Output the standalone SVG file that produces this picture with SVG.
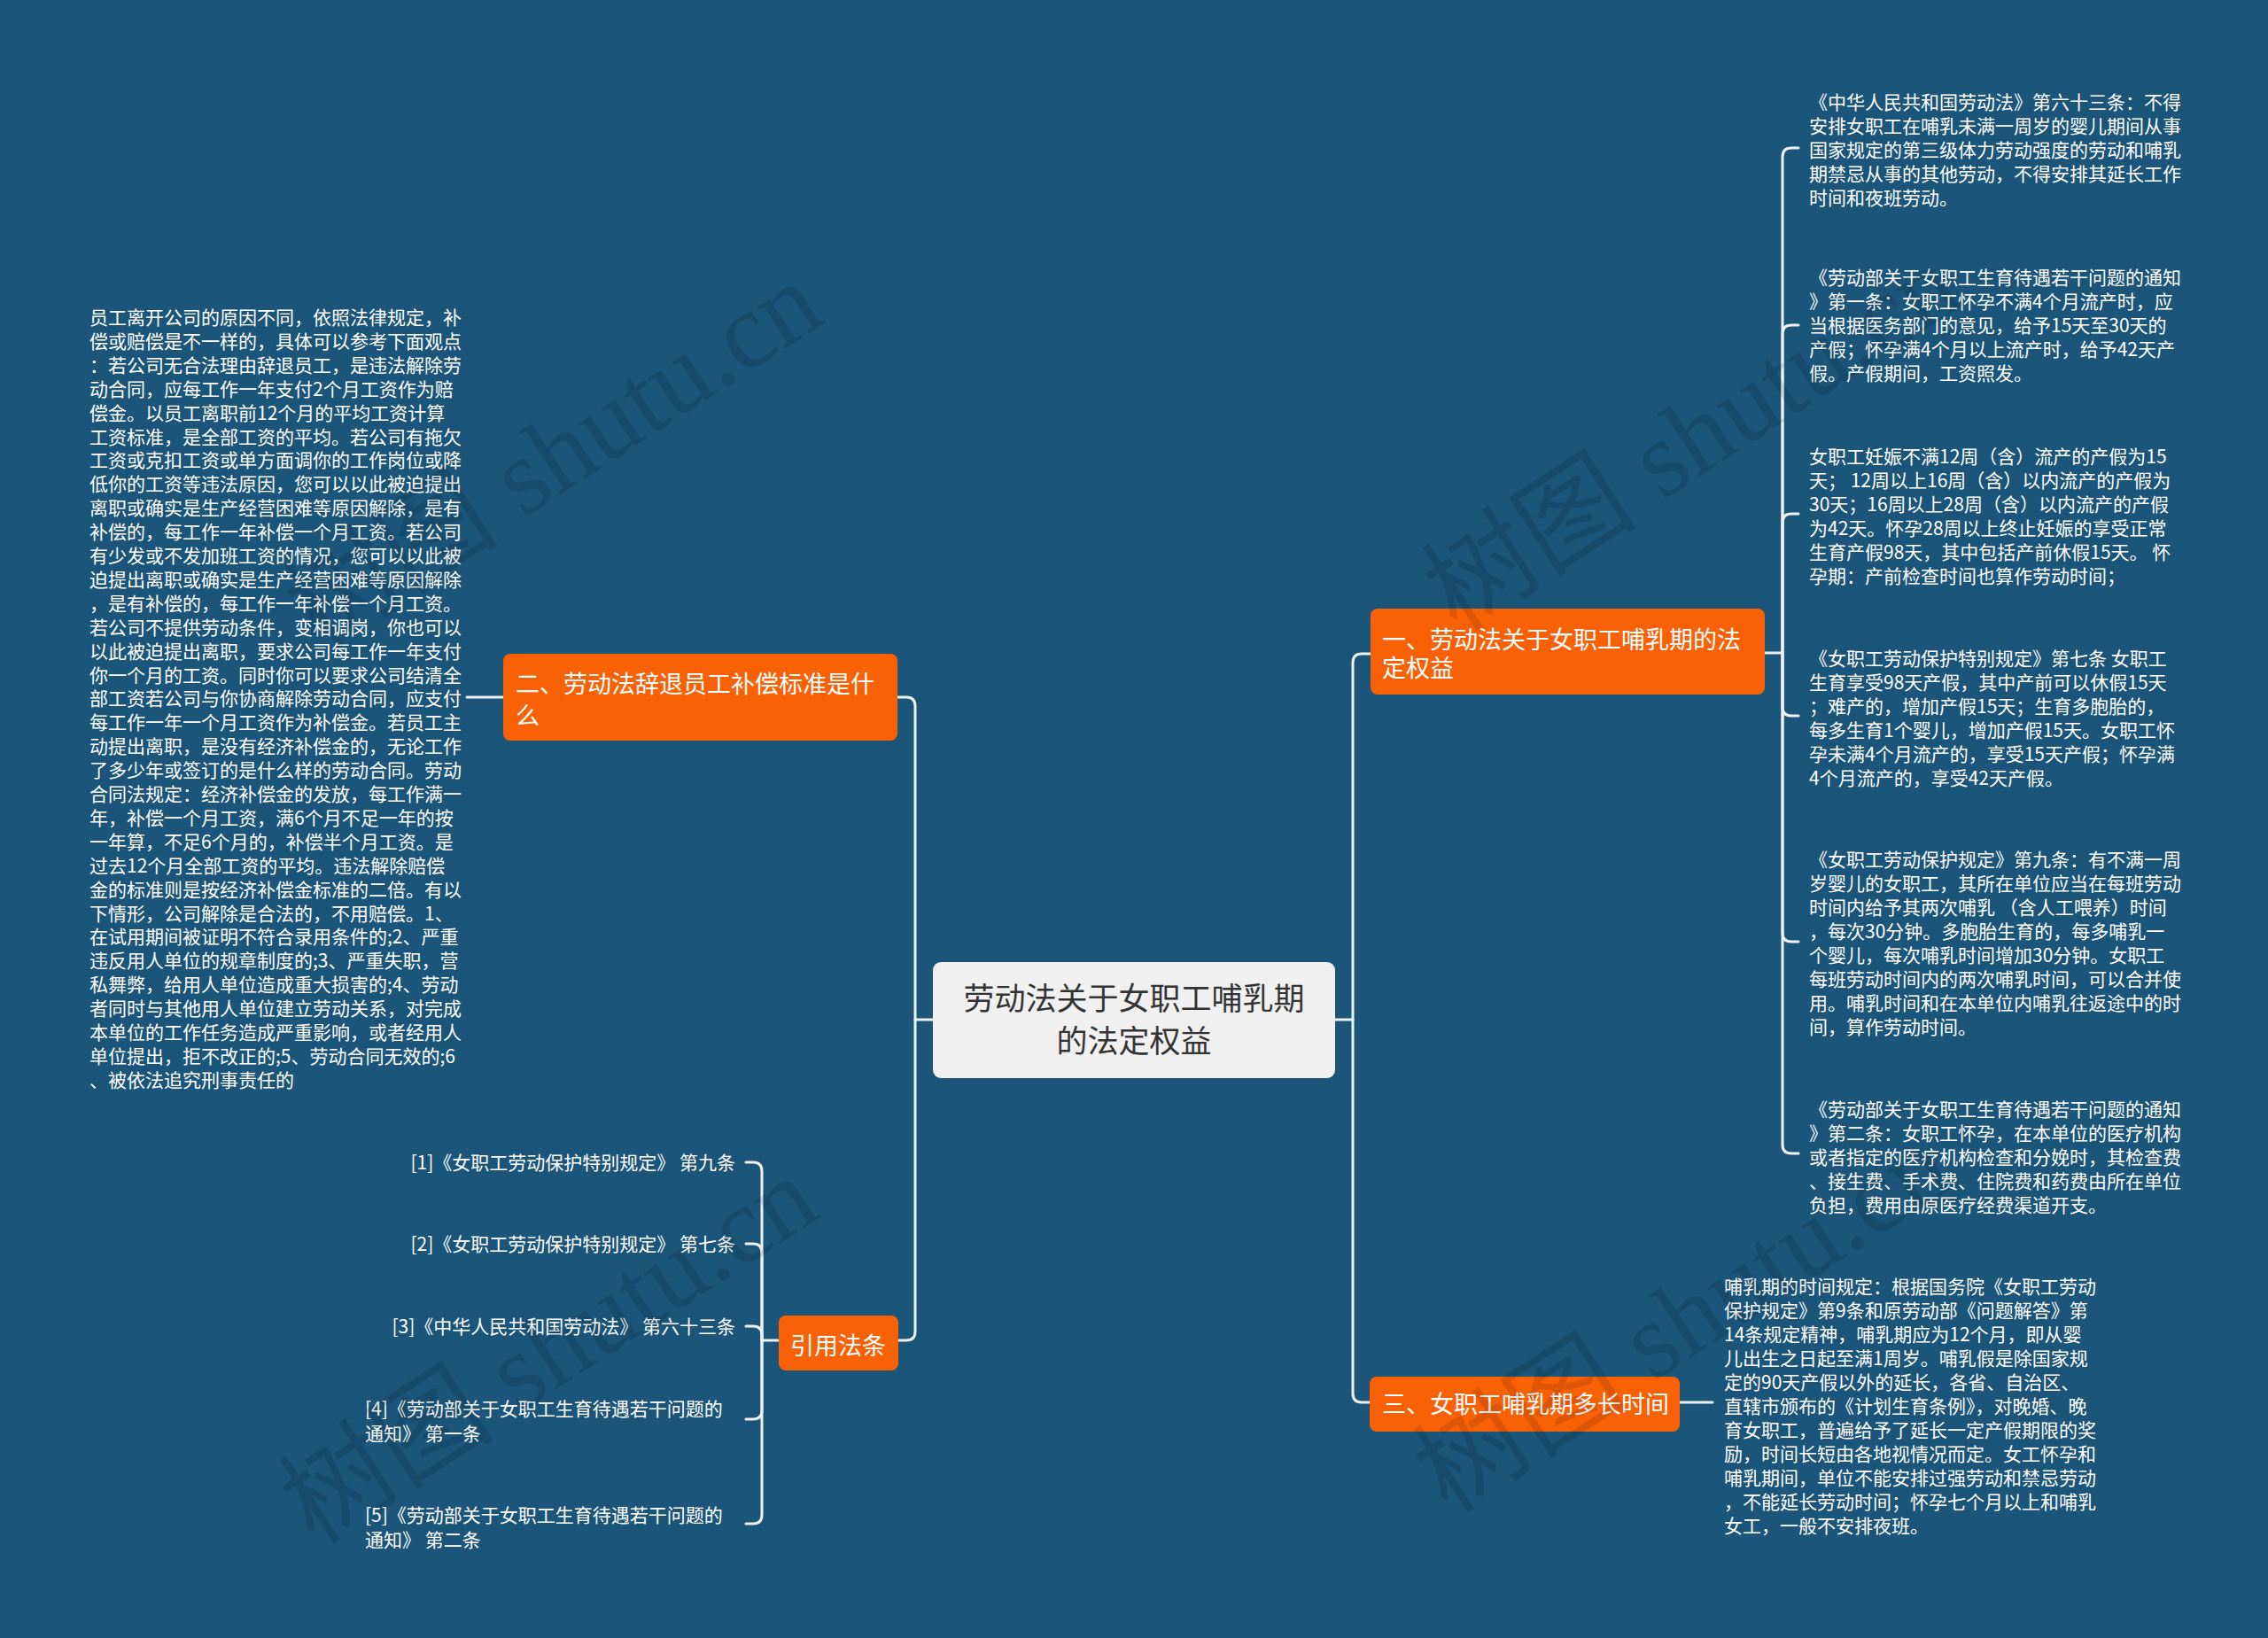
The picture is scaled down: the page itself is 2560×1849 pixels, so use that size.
<svg xmlns="http://www.w3.org/2000/svg" width="2560" height="1849" viewBox="0 0 2560 1849">
<style>
.bg{fill:#1b5579}
.conn{fill:none;stroke:#eef2f5;stroke-width:3;stroke-linecap:round}
.orange{fill:#f96106}
.root{fill:#f0f0f0}
.t{font-family:"Microsoft YaHei","Noto Sans CJK SC","Noto Sans",sans-serif;fill:#ffffff}
.s21{font-size:21px}
.s27{font-size:27px}
.rt{font-family:"Microsoft YaHei","Noto Sans CJK SC","Noto Sans",sans-serif;font-size:35px;fill:#333333}
.wm{font-family:"Liberation Serif","Noto Sans CJK SC",serif;font-size:122px;fill:#000000;opacity:0.11}
</style>
<rect class="bg" x="0" y="0" width="2560" height="1849"/>

<g id="connectors">
<path class="conn" d="M1053,1151 H1033 V797 Q1033,787 1023,787 H1013"/>
<path class="conn" d="M1033,1151 V1503 Q1033,1513 1023,1513 H1014"/>
<path class="conn" d="M1507,1151 H1527 V748 Q1527,738 1537,738 H1547"/>
<path class="conn" d="M1527,1151 V1573 Q1527,1583 1537,1583 H1546"/>
<path class="conn" d="M568,787 H527"/>
<path class="conn" d="M1896,1583 H1933"/>
<path class="conn" d="M1992,737 H2012"/>
<path class="conn" d="M2012,737 V177 Q2012,167 2022,167 H2030"/>
<path class="conn" d="M2012,737 V377 Q2012,367 2022,367 H2030"/>
<path class="conn" d="M2012,737 V590 Q2012,580 2022,580 H2030"/>
<path class="conn" d="M2012,737 V798 Q2012,808 2022,808 H2030"/>
<path class="conn" d="M2012,737 V1053 Q2012,1063 2022,1063 H2030"/>
<path class="conn" d="M2012,737 V1292 Q2012,1302 2022,1302 H2030"/>
<path class="conn" d="M879,1513 H860"/>
<path class="conn" d="M860,1513 V1322 Q860,1312 850,1312 H842"/>
<path class="conn" d="M860,1513 V1414 Q860,1404 850,1404 H842"/>
<path class="conn" d="M860,1513 V1507 Q860,1497 850,1497 H842"/>
<path class="conn" d="M860,1513 V1592 Q860,1602 850,1602 H842"/>
<path class="conn" d="M860,1513 V1710 Q860,1720 850,1720 H842"/>
</g>

<g id="root">
<rect class="root" x="1053" y="1086" width="454" height="131" rx="9"/>
<text class="rt" text-anchor="middle"><tspan x="1280" y="1140">劳动法关于女职工哺乳期</tspan><tspan x="1280" y="1188">的法定权益</tspan></text>
</g>

<g id="node-1">
<rect class="orange" x="1547" y="687" width="445" height="97" rx="8"/>
<text class="t s27"><tspan x="1560" y="732">一、劳动法关于女职工哺乳期的法</tspan><tspan x="1560" y="764">定权益</tspan></text>
</g>

<g id="node-2">
<rect class="orange" x="568" y="738" width="445" height="98" rx="8"/>
<text class="t s27"><tspan x="582" y="782">二、劳动法辞退员工补偿标准是什</tspan><tspan x="582" y="818">么</tspan></text>
</g>

<g id="node-3">
<rect class="orange" x="1546" y="1554" width="350" height="62" rx="8"/>
<text class="t s27" x="1560" y="1595">三、女职工哺乳期多长时间</text>
</g>

<g id="node-refs">
<rect class="orange" x="879" y="1485" width="135" height="62" rx="8"/>
<text class="t s27" x="946" y="1529" text-anchor="middle">引用法条</text>
</g>

<g id="node-2-text">
<text class="t s21">
<tspan x="101" y="366">员工离开公司的原因不同，依照法律规定，补</tspan>
<tspan x="101" y="392.9">偿或赔偿是不一样的，具体可以参考下面观点</tspan>
<tspan x="101" y="419.8">：若公司无合法理由辞退员工，是违法解除劳</tspan>
<tspan x="101" y="446.7">动合同，应每工作一年支付2个月工资作为赔</tspan>
<tspan x="101" y="473.6">偿金。以员工离职前12个月的平均工资计算</tspan>
<tspan x="101" y="500.5">工资标准，是全部工资的平均。若公司有拖欠</tspan>
<tspan x="101" y="527.4">工资或克扣工资或单方面调你的工作岗位或降</tspan>
<tspan x="101" y="554.3">低你的工资等违法原因，您可以以此被迫提出</tspan>
<tspan x="101" y="581.2">离职或确实是生产经营困难等原因解除，是有</tspan>
<tspan x="101" y="608.1">补偿的，每工作一年补偿一个月工资。若公司</tspan>
<tspan x="101" y="635">有少发或不发加班工资的情况，您可以以此被</tspan>
<tspan x="101" y="661.9">迫提出离职或确实是生产经营困难等原因解除</tspan>
<tspan x="101" y="688.8">，是有补偿的，每工作一年补偿一个月工资。</tspan>
<tspan x="101" y="715.7">若公司不提供劳动条件，变相调岗，你也可以</tspan>
<tspan x="101" y="742.6">以此被迫提出离职，要求公司每工作一年支付</tspan>
<tspan x="101" y="769.5">你一个月的工资。同时你可以要求公司结清全</tspan>
<tspan x="101" y="796.4">部工资若公司与你协商解除劳动合同，应支付</tspan>
<tspan x="101" y="823.3">每工作一年一个月工资作为补偿金。若员工主</tspan>
<tspan x="101" y="850.2">动提出离职，是没有经济补偿金的，无论工作</tspan>
<tspan x="101" y="877.1">了多少年或签订的是什么样的劳动合同。劳动</tspan>
<tspan x="101" y="904">合同法规定：经济补偿金的发放，每工作满一</tspan>
<tspan x="101" y="930.9">年，补偿一个月工资，满6个月不足一年的按</tspan>
<tspan x="101" y="957.8">一年算，不足6个月的，补偿半个月工资。是</tspan>
<tspan x="101" y="984.7">过去12个月全部工资的平均。违法解除赔偿</tspan>
<tspan x="101" y="1011.6">金的标准则是按经济补偿金标准的二倍。有以</tspan>
<tspan x="101" y="1038.5">下情形，公司解除是合法的，不用赔偿。1、</tspan>
<tspan x="101" y="1065.4">在试用期间被证明不符合录用条件的;2、严重</tspan>
<tspan x="101" y="1092.3">违反用人单位的规章制度的;3、严重失职，营</tspan>
<tspan x="101" y="1119.2">私舞弊，给用人单位造成重大损害的;4、劳动</tspan>
<tspan x="101" y="1146.1">者同时与其他用人单位建立劳动关系，对完成</tspan>
<tspan x="101" y="1173">本单位的工作任务造成严重影响，或者经用人</tspan>
<tspan x="101" y="1199.9">单位提出，拒不改正的;5、劳动合同无效的;6</tspan>
<tspan x="101" y="1226.8">、被依法追究刑事责任的</tspan>
</text>
</g>

<g id="node-1-text-1">
<text class="t s21">
<tspan x="2042" y="123">《中华人民共和国劳动法》第六十三条：不得</tspan>
<tspan x="2042" y="150">安排女职工在哺乳未满一周岁的婴儿期间从事</tspan>
<tspan x="2042" y="177">国家规定的第三级体力劳动强度的劳动和哺乳</tspan>
<tspan x="2042" y="204">期禁忌从事的其他劳动，不得安排其延长工作</tspan>
<tspan x="2042" y="231">时间和夜班劳动。</tspan>
</text>
</g>

<g id="node-1-text-2">
<text class="t s21">
<tspan x="2042" y="321">《劳动部关于女职工生育待遇若干问题的通知</tspan>
<tspan x="2042" y="348">》第一条：女职工怀孕不满4个月流产时，应</tspan>
<tspan x="2042" y="375">当根据医务部门的意见，给予15天至30天的</tspan>
<tspan x="2042" y="402">产假；怀孕满4个月以上流产时，给予42天产</tspan>
<tspan x="2042" y="429">假。产假期间，工资照发。</tspan>
</text>
</g>

<g id="node-1-text-3">
<text class="t s21">
<tspan x="2042" y="523">女职工妊娠不满12周（含）流产的产假为15</tspan>
<tspan x="2042" y="550">天； 12周以上16周（含）以内流产的产假为</tspan>
<tspan x="2042" y="577">30天；16周以上28周（含）以内流产的产假</tspan>
<tspan x="2042" y="604">为42天。怀孕28周以上终止妊娠的享受正常</tspan>
<tspan x="2042" y="631">生育产假98天，其中包括产前休假15天。 怀</tspan>
<tspan x="2042" y="658">孕期：产前检查时间也算作劳动时间；</tspan>
</text>
</g>

<g id="node-1-text-4">
<text class="t s21">
<tspan x="2042" y="751">《女职工劳动保护特别规定》第七条 女职工</tspan>
<tspan x="2042" y="778">生育享受98天产假，其中产前可以休假15天</tspan>
<tspan x="2042" y="805">；难产的，增加产假15天；生育多胞胎的，</tspan>
<tspan x="2042" y="832">每多生育1个婴儿，增加产假15天。女职工怀</tspan>
<tspan x="2042" y="859">孕未满4个月流产的，享受15天产假；怀孕满</tspan>
<tspan x="2042" y="886">4个月流产的，享受42天产假。</tspan>
</text>
</g>

<g id="node-1-text-5">
<text class="t s21">
<tspan x="2042" y="978">《女职工劳动保护规定》第九条：有不满一周</tspan>
<tspan x="2042" y="1005">岁婴儿的女职工，其所在单位应当在每班劳动</tspan>
<tspan x="2042" y="1032">时间内给予其两次哺乳 （含人工喂养）时间</tspan>
<tspan x="2042" y="1059">，每次30分钟。多胞胎生育的，每多哺乳一</tspan>
<tspan x="2042" y="1086">个婴儿，每次哺乳时间增加30分钟。女职工</tspan>
<tspan x="2042" y="1113">每班劳动时间内的两次哺乳时间，可以合并使</tspan>
<tspan x="2042" y="1140">用。哺乳时间和在本单位内哺乳往返途中的时</tspan>
<tspan x="2042" y="1167">间，算作劳动时间。</tspan>
</text>
</g>

<g id="node-1-text-6">
<text class="t s21">
<tspan x="2042" y="1260">《劳动部关于女职工生育待遇若干问题的通知</tspan>
<tspan x="2042" y="1287">》第二条：女职工怀孕，在本单位的医疗机构</tspan>
<tspan x="2042" y="1314">或者指定的医疗机构检查和分娩时，其检查费</tspan>
<tspan x="2042" y="1341">、接生费、手术费、住院费和药费由所在单位</tspan>
<tspan x="2042" y="1368">负担，费用由原医疗经费渠道开支。</tspan>
</text>
</g>

<g id="node-3-text">
<text class="t s21">
<tspan x="1946" y="1460">哺乳期的时间规定：根据国务院《女职工劳动</tspan>
<tspan x="1946" y="1487">保护规定》第9条和原劳动部《问题解答》第</tspan>
<tspan x="1946" y="1514">14条规定精神，哺乳期应为12个月，即从婴</tspan>
<tspan x="1946" y="1541">儿出生之日起至满1周岁。哺乳假是除国家规</tspan>
<tspan x="1946" y="1568">定的90天产假以外的延长，各省、自治区、</tspan>
<tspan x="1946" y="1595">直辖市颁布的《计划生育条例》，对晚婚、晚</tspan>
<tspan x="1946" y="1622">育女职工，普遍给予了延长一定产假期限的奖</tspan>
<tspan x="1946" y="1649">励，时间长短由各地视情况而定。女工怀孕和</tspan>
<tspan x="1946" y="1676">哺乳期间，单位不能安排过强劳动和禁忌劳动</tspan>
<tspan x="1946" y="1703">，不能延长劳动时间；怀孕七个月以上和哺乳</tspan>
<tspan x="1946" y="1730">女工，一般不安排夜班。</tspan>
</text>
</g>

<g id="ref-1"><text class="t s21" x="830" y="1320" text-anchor="end">[1]《女职工劳动保护特别规定》 第九条</text></g>
<g id="ref-2"><text class="t s21" x="830" y="1412" text-anchor="end">[2]《女职工劳动保护特别规定》 第七条</text></g>
<g id="ref-3"><text class="t s21" x="830" y="1505" text-anchor="end">[3]《中华人民共和国劳动法》 第六十三条</text></g>
<g id="ref-4"><text class="t s21"><tspan x="412" y="1598">[4]《劳动部关于女职工生育待遇若干问题的</tspan><tspan x="412" y="1626">通知》 第一条</tspan></text></g>
<g id="ref-5"><text class="t s21"><tspan x="412" y="1718">[5]《劳动部关于女职工生育待遇若干问题的</tspan><tspan x="412" y="1746">通知》 第二条</tspan></text></g>

<g id="watermarks">
<text class="wm" x="360" y="735" transform="rotate(-33 360 735)">树图 shutu.cn</text>
<text class="wm" x="1645" y="715" transform="rotate(-33 1645 715)">树图 shutu.cn</text>
<text class="wm" x="355" y="1745" transform="rotate(-33 355 1745)">树图 shutu.cn</text>
<text class="wm" x="1635" y="1710" transform="rotate(-33 1635 1710)">树图 shutu.cn</text>
</g>
</svg>
